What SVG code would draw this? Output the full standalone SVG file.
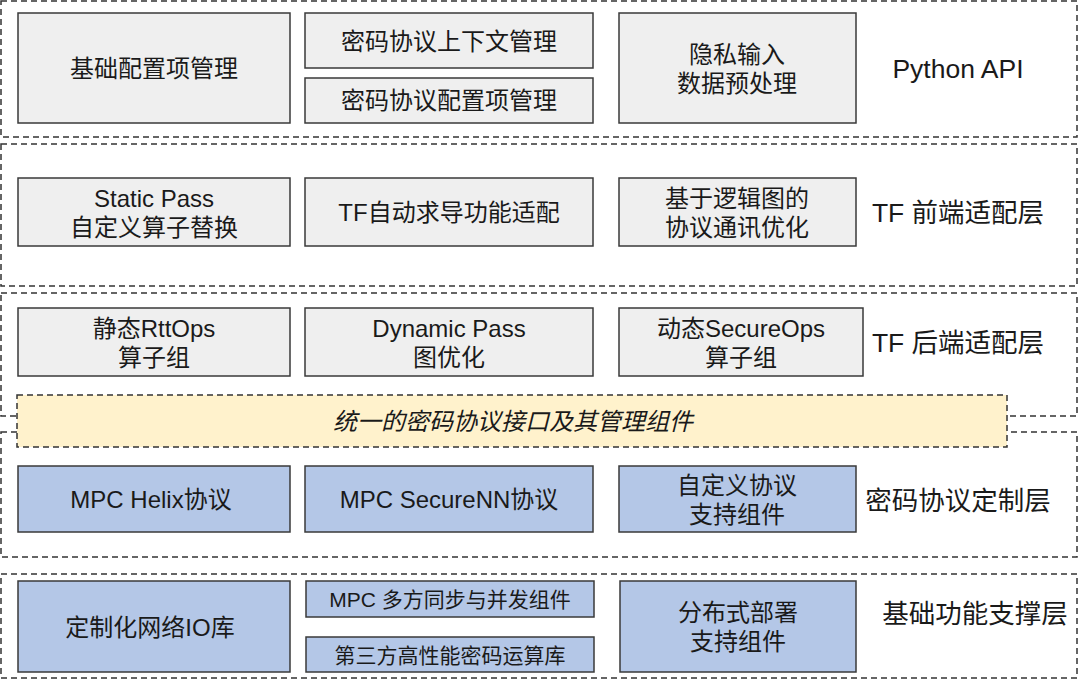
<svg xmlns="http://www.w3.org/2000/svg" width="1080" height="680" viewBox="0 0 1080 680">
<style>
text{font-family:"Liberation Sans","Noto Sans CJK SC",sans-serif;fill:#1a1a1a;text-anchor:middle;dominant-baseline:central}
.layer{fill:none;stroke:#333;stroke-width:1.5;stroke-dasharray:6 4}
.g{fill:#efefef;stroke:#3a3a3a;stroke-width:1.5}
.b{fill:#b4c7e7;stroke:#3a3a3a;stroke-width:1.5}
.band{fill:#fff2cc;stroke:#333;stroke-width:1.5;stroke-dasharray:6 4}
.t{font-size:24px}
.s{font-size:21px}
.l{font-size:26.5px}
.i{font-size:24px;font-style:italic}
</style>
<g id="layers">
<rect class="layer" x="1" y="1" width="1076" height="136"/>
<rect class="layer" x="1" y="144" width="1076" height="142"/>
<rect class="layer" x="1" y="293" width="1076" height="123"/>
<rect class="layer" x="1" y="432" width="1076" height="125"/>
<rect class="layer" x="1" y="574" width="1076" height="104"/>
</g>
<g id="python-api">
<g id="n1"><rect class="g" x="18" y="13" width="272" height="110"/><text class="t" x="154" y="68">基础配置项管理</text></g>
<g id="n2"><rect class="g" x="305" y="13" width="288" height="55"/><text class="t" x="449" y="41">密码协议上下文管理</text></g>
<g id="n3"><rect class="g" x="305" y="78" width="288" height="45"/><text class="t" x="449" y="100">密码协议配置项管理</text></g>
<g id="n4"><rect class="g" x="619" y="13" width="237" height="110"/><text class="t" x="737" y="54">隐私输入</text><text class="t" x="737" y="83">数据预处理</text></g>
<text class="l" x="958" y="69">Python API</text>
</g>
<g id="tf-front">
<g id="n5"><rect class="g" x="18" y="178" width="272" height="68"/><text class="t" x="154" y="198">Static Pass</text><text class="t" x="154" y="227">自定义算子替换</text></g>
<g id="n6"><rect class="g" x="305" y="178" width="288" height="68"/><text class="t" x="449" y="212">TF自动求导功能适配</text></g>
<g id="n7"><rect class="g" x="619" y="178" width="237" height="68"/><text class="t" x="737" y="198">基于逻辑图的</text><text class="t" x="737" y="227">协议通讯优化</text></g>
<text class="l" x="958" y="213">TF 前端适配层</text>
</g>
<g id="tf-back">
<g id="n8"><rect class="g" x="18" y="308" width="272" height="68"/><text class="t" x="154" y="328">静态RttOps</text><text class="t" x="154" y="357">算子组</text></g>
<g id="n9"><rect class="g" x="305" y="308" width="288" height="68"/><text class="t" x="449" y="328">Dynamic Pass</text><text class="t" x="449" y="357">图优化</text></g>
<g id="n10"><rect class="g" x="619" y="308" width="244" height="68"/><text class="t" x="741" y="328">动态SecureOps</text><text class="t" x="741" y="357">算子组</text></g>
<text class="l" x="958" y="343">TF 后端适配层</text>
</g>
<g id="interface">
<rect class="band" x="17" y="395" width="990" height="52"/>
<text class="i" x="513" y="421">统一的密码协议接口及其管理组件</text>
</g>
<g id="protocol">
<g id="n11"><rect class="b" x="18" y="466" width="272" height="66"/><text class="t" x="151" y="499">MPC Helix协议</text></g>
<g id="n12"><rect class="b" x="305" y="466" width="288" height="66"/><text class="t" x="449" y="499">MPC SecureNN协议</text></g>
<g id="n13"><rect class="b" x="619" y="466" width="237" height="66"/><text class="t" x="737" y="485">自定义协议</text><text class="t" x="737" y="514">支持组件</text></g>
<text class="l" x="958" y="501">密码协议定制层</text>
</g>
<g id="base">
<g id="n14"><rect class="b" x="18" y="581" width="272" height="91"/><text class="t" x="150" y="627">定制化网络IO库</text></g>
<g id="n15"><rect class="b" x="306" y="581" width="288" height="36"/><text class="s" x="450" y="599">MPC 多方同步与并发组件</text></g>
<g id="n16"><rect class="b" x="306" y="637" width="288" height="35"/><text class="s" x="450" y="655">第三方高性能密码运算库</text></g>
<g id="n17"><rect class="b" x="620" y="581" width="236" height="91"/><text class="t" x="738" y="612">分布式部署</text><text class="t" x="738" y="641">支持组件</text></g>
<text class="l" x="975" y="614">基础功能支撑层</text>
</g>
<g id="connectors"/>
</svg>
